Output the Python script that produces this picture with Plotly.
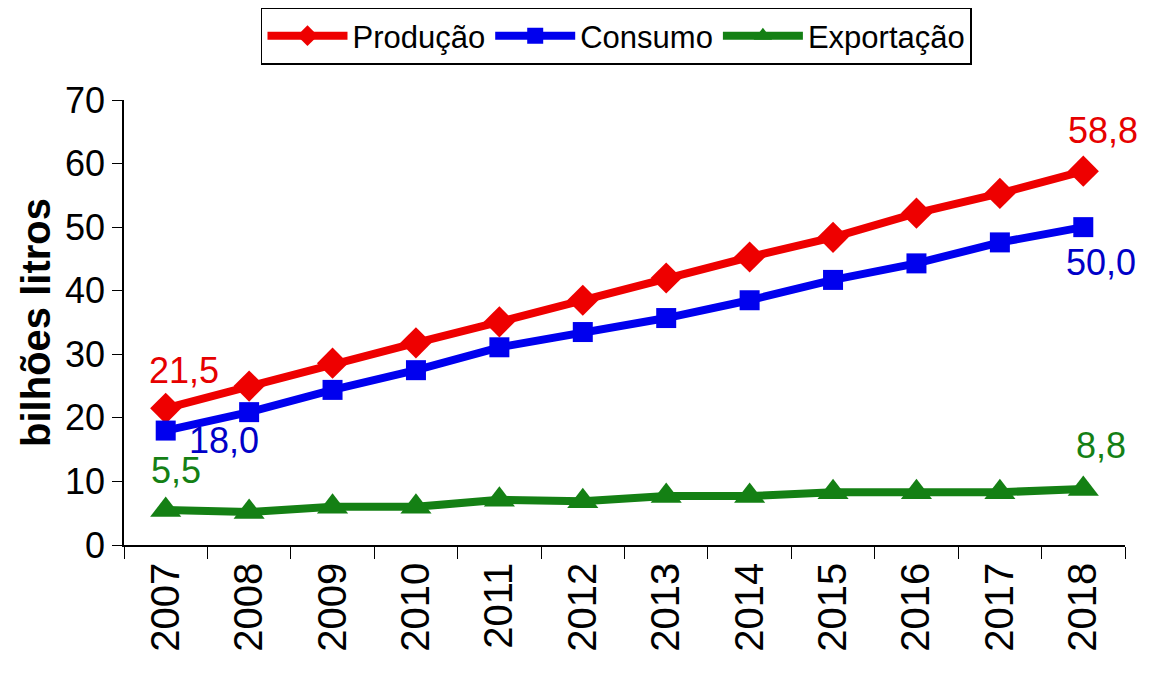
import plotly.graph_objects as go

years = ["2007", "2008", "2009", "2010", "2011", "2012", "2013", "2014", "2015", "2016", "2017", "2018"]
producao = [21.5, 25.0, 28.6, 31.8, 35.1, 38.5, 42.0, 45.3, 48.4, 52.2, 55.3, 58.8]
consumo = [18.0, 20.9, 24.4, 27.5, 31.1, 33.5, 35.7, 38.5, 41.7, 44.3, 47.6, 50.0]
exportacao = [5.5, 5.2, 6.0, 6.0, 7.1, 6.9, 7.7, 7.7, 8.3, 8.3, 8.3, 8.8]

FONT = "Liberation Sans, Arial, sans-serif"
RED = "rgb(238,0,0)"
BLUE = "rgb(0,0,238)"
GREEN = "rgb(20,128,20)"

fig = go.Figure()
fig.add_trace(go.Scatter(x=years, y=producao, name="Produção", mode="lines+markers",
                         line=dict(color=RED, width=8),
                         marker=dict(symbol="diamond", size=24, color=RED)))
fig.add_trace(go.Scatter(x=years, y=consumo, name="Consumo", mode="lines+markers",
                         line=dict(color=BLUE, width=8),
                         marker=dict(symbol="square", size=20, color=BLUE)))
fig.add_trace(go.Scatter(x=years, y=exportacao, name="Exportação", mode="lines+markers",
                         line=dict(color=GREEN, width=8),
                         marker=dict(symbol="triangle-up", size=27, color=GREEN)))

def fmt(v):
    return f"{v:.1f}".replace(".", ",")

first, last = 0, len(years) - 1
labels = [
    (first, producao[first], "rgb(230,0,0)", 18, 38),
    (first, consumo[first], "rgb(0,0,200)", 58, -10),
    (first, exportacao[first], GREEN, 10, 40),
    (last, producao[last], "rgb(230,0,0)", 20, 41),
    (last, consumo[last], "rgb(0,0,200)", 18, -35),
    (last, exportacao[last], GREEN, 18, 44),
]
for x, y, c, dx, dy in labels:
    fig.add_annotation(x=x, y=y, xref="x", yref="y", text=fmt(y), showarrow=False,
                       xshift=dx, yshift=dy, font=dict(family=FONT, size=36, color=c))

fig.update_layout(
    width=1159, height=685,
    margin=dict(l=124, r=34, t=100, b=140, autoexpand=False),
    paper_bgcolor="white", plot_bgcolor="white",
    showlegend=True,
    legend=dict(orientation="h", x=0.492, xanchor="center",
                yref="container", y=0.989, yanchor="top",
                bordercolor="black", borderwidth=1.5, bgcolor="white",
                font=dict(family=FONT, size=31, color="black"),
                itemwidth=80, tracegroupgap=0),
)
fig.update_xaxes(type="category", range=[-0.5, 11.5], showgrid=False,
                 showline=True, linecolor="black", linewidth=1.5,
                 ticks="outside", tickson="boundaries", ticklen=12, tickcolor="black",
                 tickangle=-90, tickfont=dict(family=FONT, size=40, color="black"))
fig.update_yaxes(range=[0, 70], dtick=10, showgrid=False, zeroline=False,
                 showline=True, linecolor="black", linewidth=1.5,
                 ticks="outside", ticklen=10, tickcolor="black",
                 tickfont=dict(family=FONT, size=36, color="black"),
                 title=dict(text="bilhões litros", standoff=2,
                            font=dict(family=FONT, size=40, color="black", weight="bold")))

fig.write_html("out.html")
